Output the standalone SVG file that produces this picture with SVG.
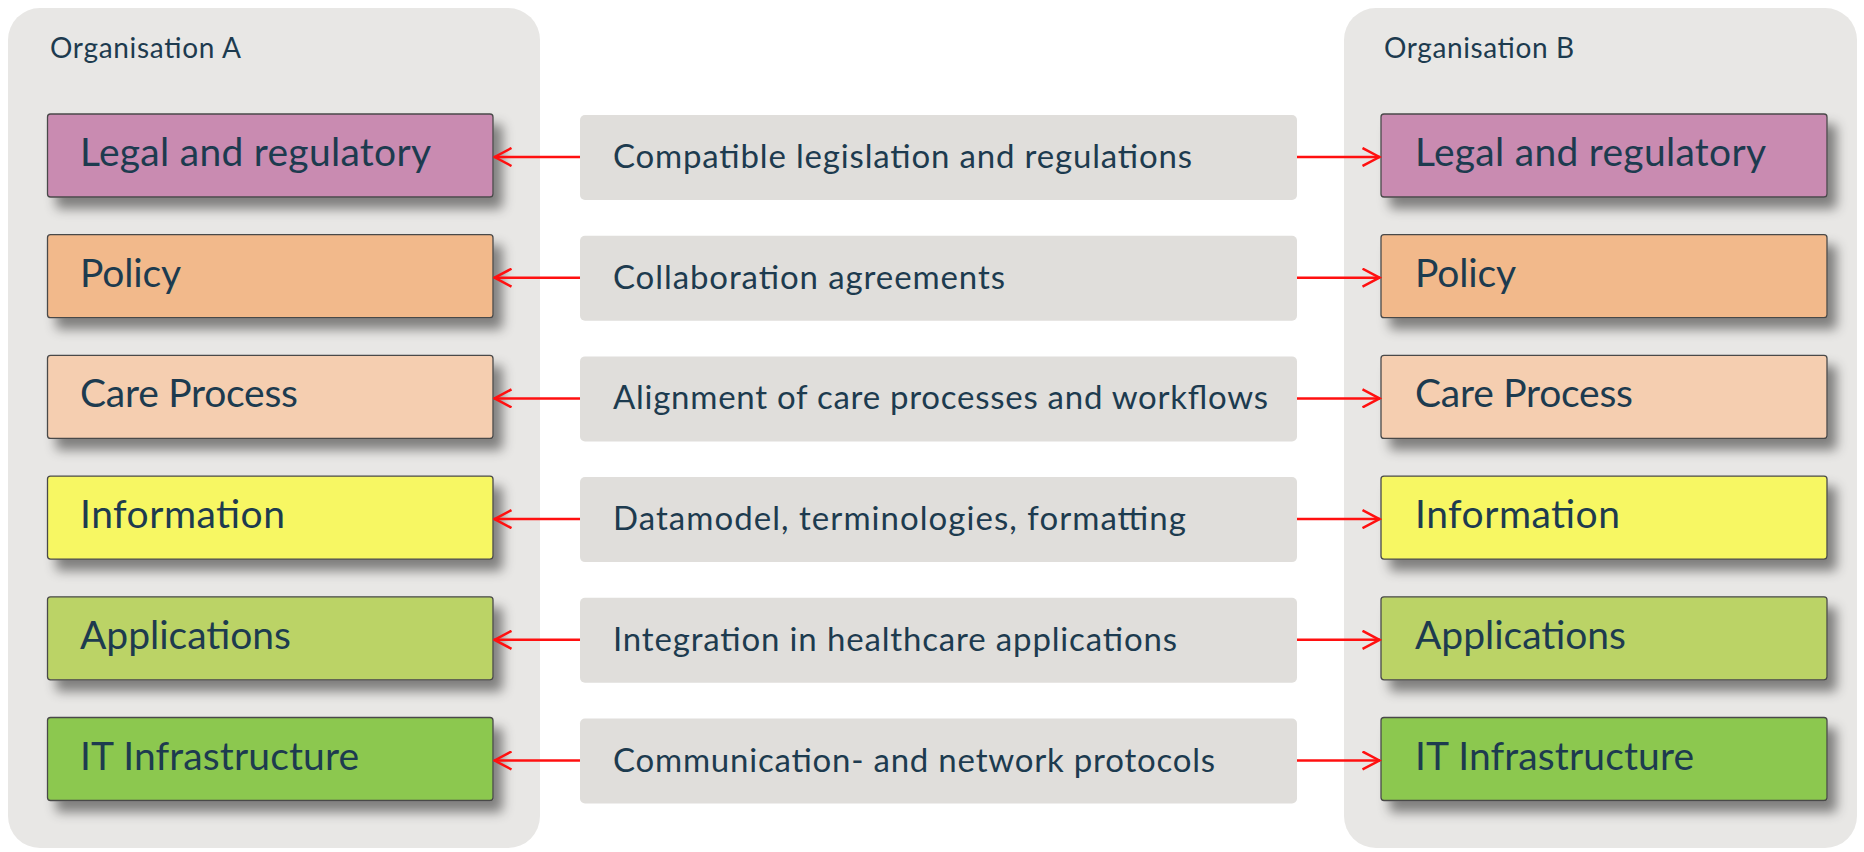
<svg xmlns="http://www.w3.org/2000/svg" width="1864" height="852" viewBox="0 0 1864 852">
<style>
.panel{fill:#e8e7e5}
.box{stroke:#4a4a4a;stroke-width:1.3}
.mid{fill:#e0dedb}
.lbl{font-family:Lato,"Liberation Sans",sans-serif;font-size:39px;fill:#1d3b4f}
.mtx{font-family:Lato,"Liberation Sans",sans-serif;font-size:33px;fill:#1d3b4f}
.org{font-family:Lato,"Liberation Sans",sans-serif;font-size:28px;fill:#1d3b4f}
.arr{stroke:#ff1010;stroke-width:2.5;fill:none}
</style>
<defs>
<filter id="sh" x="-10%" y="-25%" width="135%" height="180%">
<feDropShadow dx="9" dy="11" stdDeviation="6" flood-color="#000" flood-opacity="0.45"/>
</filter>
<marker id="ah" viewBox="0 0 20 20" markerWidth="20" markerHeight="20" refX="18.5" refY="10" orient="auto" markerUnits="userSpaceOnUse">
<path d="M1,1 L18,10 L1,19" fill="none" stroke="#ff1010" stroke-width="2.5"/>
</marker>
</defs>
<rect width="1864" height="852" fill="#ffffff"/>
<g id="orgA">
<rect class="panel" x="8" y="8" width="532" height="840" rx="32"/>
<text class="org" x="50" y="58" textLength="191" lengthAdjust="spacing">Organisation A</text>
</g>
<g id="orgB">
<rect class="panel" x="1344" y="8" width="513" height="840" rx="32"/>
<text class="org" x="1384" y="58" textLength="190" lengthAdjust="spacing">Organisation B</text>
</g>
<g id="a1"><rect class="box" x="47.5" y="114" width="445.5" height="83" rx="3" fill="#c98bb1" filter="url(#sh)"/><text class="lbl" x="80" y="166" textLength="351" lengthAdjust="spacing">Legal and regulatory</text></g>
<g id="a2"><rect class="box" x="47.5" y="234.7" width="445.5" height="83" rx="3" fill="#f2b98b" filter="url(#sh)"/><text class="lbl" x="80" y="286.7" textLength="101" lengthAdjust="spacing">Policy</text></g>
<g id="a3"><rect class="box" x="47.5" y="355.4" width="445.5" height="83" rx="3" fill="#f5ceb0" filter="url(#sh)"/><text class="lbl" x="80" y="407.4" textLength="218" lengthAdjust="spacing">Care Process</text></g>
<g id="a4"><rect class="box" x="47.5" y="476.1" width="445.5" height="83" rx="3" fill="#f7f764" filter="url(#sh)"/><text class="lbl" x="80" y="528.1" textLength="205" lengthAdjust="spacing">Information</text></g>
<g id="a5"><rect class="box" x="47.5" y="596.8" width="445.5" height="83" rx="3" fill="#bbd366" filter="url(#sh)"/><text class="lbl" x="80" y="648.8" textLength="211" lengthAdjust="spacing">Applications</text></g>
<g id="a6"><rect class="box" x="47.5" y="717.5" width="445.5" height="83" rx="3" fill="#8cc84f" filter="url(#sh)"/><text class="lbl" x="80" y="769.5" textLength="279" lengthAdjust="spacing">IT Infrastructure</text></g>
<g id="b1"><rect class="box" x="1381" y="114" width="446" height="83" rx="3" fill="#c98bb1" filter="url(#sh)"/><text class="lbl" x="1415" y="166" textLength="351" lengthAdjust="spacing">Legal and regulatory</text></g>
<g id="b2"><rect class="box" x="1381" y="234.7" width="446" height="83" rx="3" fill="#f2b98b" filter="url(#sh)"/><text class="lbl" x="1415" y="286.7" textLength="101" lengthAdjust="spacing">Policy</text></g>
<g id="b3"><rect class="box" x="1381" y="355.4" width="446" height="83" rx="3" fill="#f5ceb0" filter="url(#sh)"/><text class="lbl" x="1415" y="407.4" textLength="218" lengthAdjust="spacing">Care Process</text></g>
<g id="b4"><rect class="box" x="1381" y="476.1" width="446" height="83" rx="3" fill="#f7f764" filter="url(#sh)"/><text class="lbl" x="1415" y="528.1" textLength="205" lengthAdjust="spacing">Information</text></g>
<g id="b5"><rect class="box" x="1381" y="596.8" width="446" height="83" rx="3" fill="#bbd366" filter="url(#sh)"/><text class="lbl" x="1415" y="648.8" textLength="211" lengthAdjust="spacing">Applications</text></g>
<g id="b6"><rect class="box" x="1381" y="717.5" width="446" height="83" rx="3" fill="#8cc84f" filter="url(#sh)"/><text class="lbl" x="1415" y="769.5" textLength="279" lengthAdjust="spacing">IT Infrastructure</text></g>
<g id="m1"><rect class="mid" x="580" y="115" width="717" height="85" rx="5"/><text class="mtx" x="613" y="168" textLength="579" lengthAdjust="spacing">Compatible legislation and regulations</text></g>
<g id="m2"><rect class="mid" x="580" y="235.7" width="717" height="85" rx="5"/><text class="mtx" x="613" y="288.7" textLength="392" lengthAdjust="spacing">Collaboration agreements</text></g>
<g id="m3"><rect class="mid" x="580" y="356.4" width="717" height="85" rx="5"/><text class="mtx" x="613" y="409.4" textLength="655" lengthAdjust="spacing">Alignment of care processes and workflows</text></g>
<g id="m4"><rect class="mid" x="580" y="477.1" width="717" height="85" rx="5"/><text class="mtx" x="613" y="530.1" textLength="573" lengthAdjust="spacing">Datamodel, terminologies, formatting</text></g>
<g id="m5"><rect class="mid" x="580" y="597.8" width="717" height="85" rx="5"/><text class="mtx" x="613" y="650.8" textLength="564" lengthAdjust="spacing">Integration in healthcare applications</text></g>
<g id="m6"><rect class="mid" x="580" y="718.5" width="717" height="85" rx="5"/><text class="mtx" x="613" y="771.5" textLength="602" lengthAdjust="spacing">Communication- and network protocols</text></g>
<g id="connectors">
<path class="arr" d="M580,157 H494" marker-end="url(#ah)"/>
<path class="arr" d="M1297,157 H1380" marker-end="url(#ah)"/>
<path class="arr" d="M580,277.7 H494" marker-end="url(#ah)"/>
<path class="arr" d="M1297,277.7 H1380" marker-end="url(#ah)"/>
<path class="arr" d="M580,398.4 H494" marker-end="url(#ah)"/>
<path class="arr" d="M1297,398.4 H1380" marker-end="url(#ah)"/>
<path class="arr" d="M580,519.1 H494" marker-end="url(#ah)"/>
<path class="arr" d="M1297,519.1 H1380" marker-end="url(#ah)"/>
<path class="arr" d="M580,639.8 H494" marker-end="url(#ah)"/>
<path class="arr" d="M1297,639.8 H1380" marker-end="url(#ah)"/>
<path class="arr" d="M580,760.5 H494" marker-end="url(#ah)"/>
<path class="arr" d="M1297,760.5 H1380" marker-end="url(#ah)"/>
</g>
</svg>
